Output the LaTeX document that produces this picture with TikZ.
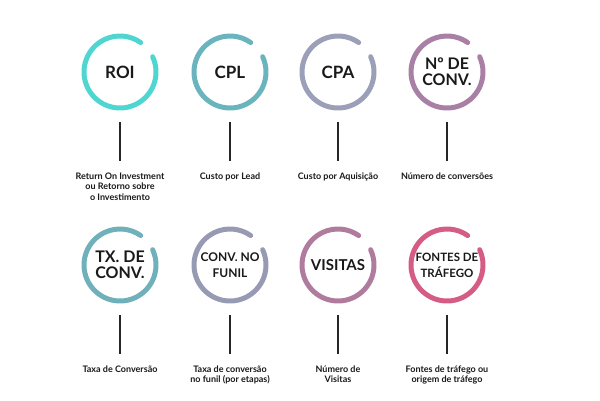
\documentclass[tikz,border=0pt]{standalone}
\usepackage{fontspec}
\setmainfont{Lato}
\usetikzlibrary{calc}
\begin{document}
\begin{tikzpicture}[x=1pt,y=-1pt,
  ring/.style={line width=5pt,line cap=round},
  ttl/.style={font=\bfseries\fontsize{17}{16}\selectfont,align=center,text=black!90},
  lbl/.style={font=\bfseries\fontsize{9}{10.5}\selectfont,align=center,anchor=north,text=black!90},
  stem/.style={line width=1.3pt,black!85}]
\useasboundingbox (0,0) rectangle (600,400);
\def\R{36}
\foreach \x/\y/\c/\t/\l/\n in {
 120/72/4FD6D0/ROI/{Return On Investment\\ou Retorno sobre\\o Investimento}/a,
 230/72/6AB5BD/CPL/{Custo por Lead}/b,
 338/72/9BA0B8/CPA/{Custo por Aquisição}/c,
 447/72/A87FA5/{\fontsize{16}{15}\selectfont Nº DE\\\fontsize{16}{15}\selectfont CONV.}/{Número de conversões}/d,
 120/265/6FB0BB/{\fontsize{16}{15}\selectfont TX. DE\\\fontsize{16}{15}\selectfont CONV.}/{Taxa de Conversão}/e,
 230/265/9899B3/{\fontsize{12}{12}\selectfont CONV. NO\\\fontsize{12}{12}\selectfont FUNIL}/{Taxa de conversão\\no funil (por etapas)}/f,
 338/265/B07C9E/{\fontsize{15}{15}\selectfont VISITAS}/{Número de\\Visitas}/g,
 447/265/D45C85/{\fontsize{11.5}{11.5}\selectfont FONTES DE\\\fontsize{11.5}{11.5}\selectfont TRÁFEGO}/{Fontes de tráfego ou\\origem de tráfego}/h}{
  \definecolor{rc}{HTML}{\c}
  \node[ttl] (t\n) at (\x,\y) {\t};
  \draw[ring,rc] ($(\x,\y)+(-25:\R)$) arc[start angle=-25,end angle=305,radius=\R];
  \coordinate (s\n) at (\x,\y+50);
  \coordinate (e\n) at (\x,\y+89);
  \draw[stem] (s\n) -- (e\n);
  \node[lbl] (l\n) at (\x,\y+97) {\l};
}
\end{tikzpicture}
\end{document}
